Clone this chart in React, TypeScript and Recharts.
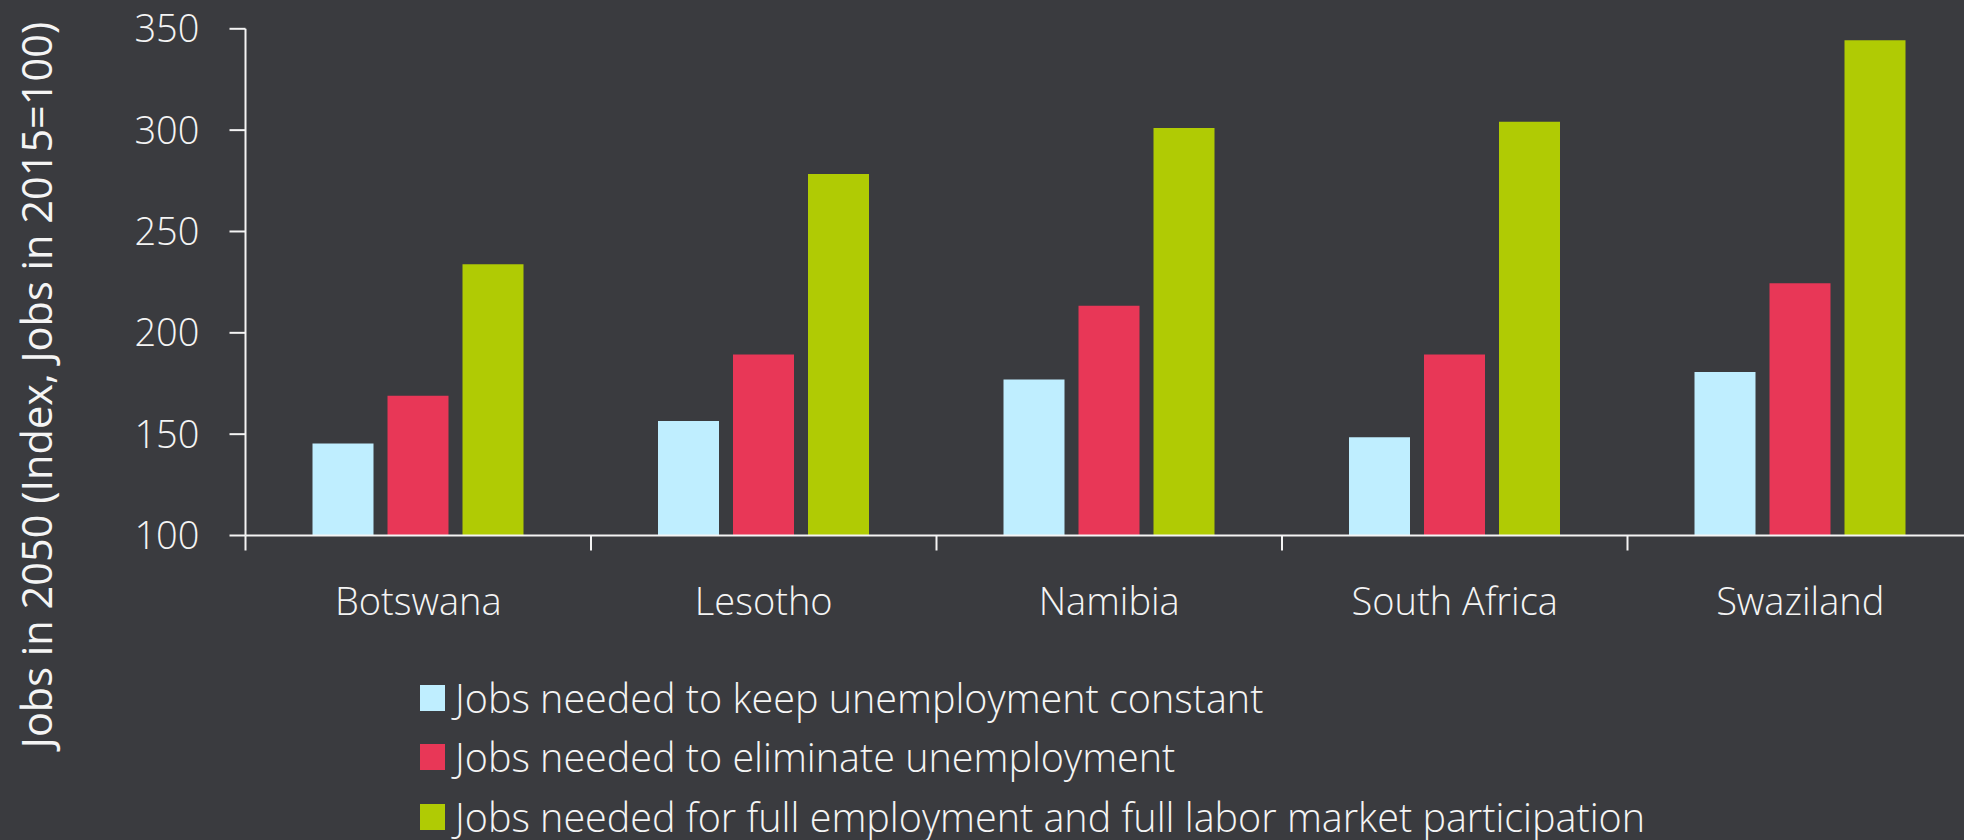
import { BarChart, Bar, XAxis, YAxis, Legend } from "recharts";

const countries = ["Botswana", "Lesotho", "Namibia", "South Africa", "Swaziland"];
const keepConstant = [145.4, 156.5, 177, 148.5, 180.7];
const eliminate = [168.9, 189.3, 213.4, 189.3, 224.5];
const fullParticipation = [233.8, 278.3, 301.1, 304.2, 344.4];
const yTicks = [100, 150, 200, 250, 300, 350];

const seriesNames = [
  "Jobs needed to keep unemployment constant",
  "Jobs needed to eliminate unemployment",
  "Jobs needed for full employment and full labor market participation",
];
const seriesColors = ["#BFEEFF", "#E83757", "#B0CB04"];

const BG = "#3A3B3F";
const INK = "#F4F4F4";
const FONT = "'Open Sans', sans-serif";

const data = countries.map((country, i) => ({
  country,
  keep: keepConstant[i],
  eliminate: eliminate[i],
  full: fullParticipation[i],
}));

// labels sit under the band centre, tick marks on the band boundaries
function CountryTick(props: any) {
  const { x, y, payload } = props;
  const half = payload?.offset ?? 0;
  return (
    <g>
      <line x1={x - half} x2={x - half} y1={y} y2={y + 15} stroke={INK} strokeWidth={2} />
      <text
        x={x}
        y={y + 64}
        textAnchor="middle"
        dominantBaseline="central"
        fill={INK}
        fontFamily={FONT}
        fontWeight={300}
        fontSize={38}
      >
        {payload.value}
      </text>
    </g>
  );
}

function AxisTitle() {
  return (
    <text
      x={36}
      y={385}
      transform="rotate(-90 36 385)"
      textAnchor="middle"
      dominantBaseline="central"
      fill={INK}
      fontFamily={FONT}
      fontWeight={400}
      fontSize={41.5}
    >
      Jobs in 2050 (Index, Jobs in 2015=100)
    </text>
  );
}

// keep series order (the default sorter is alphabetical)
function SeriesLegend({ payload }: any) {
  const items = [...(payload ?? [])].sort(
    (a: any, b: any) => seriesNames.indexOf(a.value) - seriesNames.indexOf(b.value)
  );
  return (
    <div style={{ fontFamily: FONT, fontWeight: 300, fontSize: 39.5, color: INK }}>
      {items.map((p: any) => (
        <div
          key={p.value}
          style={{ display: "flex", alignItems: "center", height: 59.5, whiteSpace: "nowrap" }}
        >
          <span
            style={{ display: "inline-block", width: 25, height: 26, background: p.color, marginRight: 10 }}
          />
          <span>{p.value}</span>
        </div>
      ))}
    </div>
  );
}

export default function App() {
  return (
    <div
      style={{
        position: "absolute",
        left: 0,
        top: 0,
        width: 1964,
        height: 840,
        overflow: "hidden",
        background: BG,
      }}
    >
      <BarChart
        width={2000}
        height={840}
        data={data}
        margin={{ top: 28.8, right: 27, bottom: 204.5, left: 0 }}
        barSize={61}
        barGap={14}
      >
        <YAxis
          width={245.5}
          domain={[100, 350]}
          ticks={yTicks}
          interval={0}
          axisLine={{ stroke: INK, strokeWidth: 2 }}
          tickLine={{ stroke: INK, strokeWidth: 2 }}
          tickSize={16}
          tickMargin={30}
          tick={{ fill: INK, fontFamily: FONT, fontWeight: 300, fontSize: 38 }}
          label={{ content: <AxisTitle /> }}
        />
        <XAxis
          dataKey="country"
          height={100}
          axisLine={{ stroke: INK, strokeWidth: 2 }}
          tickLine={false}
          tickSize={0}
          tickMargin={0}
          interval={0}
          tick={<CountryTick />}
        />
        <Legend
          layout="vertical"
          align="center"
          verticalAlign="middle"
          content={<SeriesLegend />}
          wrapperStyle={{ left: 420, top: 668, width: "auto", height: "auto" }}
        />
        <Bar dataKey="keep" name={seriesNames[0]} fill={seriesColors[0]} isAnimationActive={false} />
        <Bar dataKey="eliminate" name={seriesNames[1]} fill={seriesColors[1]} isAnimationActive={false} />
        <Bar dataKey="full" name={seriesNames[2]} fill={seriesColors[2]} isAnimationActive={false} />
      </BarChart>
    </div>
  );
}
